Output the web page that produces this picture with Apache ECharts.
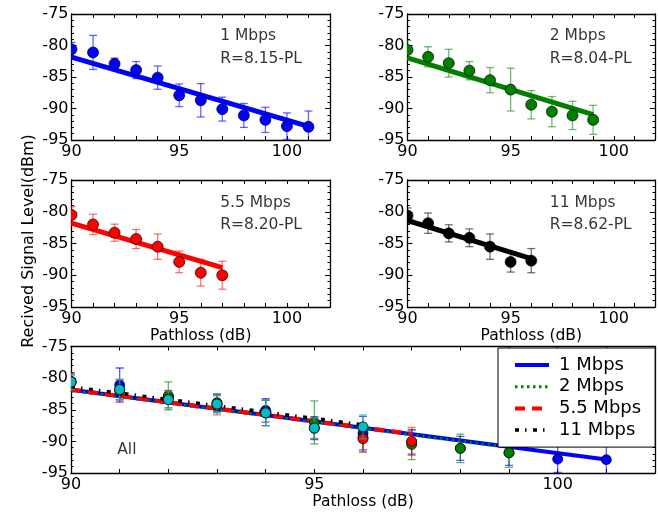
<!DOCTYPE html>
<html>
<head>
<meta charset="utf-8">
<script src="https://cdn.jsdelivr.net/npm/echarts@6/dist/echarts.min.js"></script>
<style>
  html, body { margin: 0; padding: 0; background: #fff; }
  #chart { width: 658px; height: 513px; }
</style>
</head>
<body>
<div id="chart"></div>
<script>
// Path loss (dB) at which each rate was measured
const pathloss = [90, 91, 92, 93, 94, 95, 96, 97, 98, 99, 100, 101];

// Mean received signal level (dBm) and its standard deviation, per data rate
const rate1Mean  = [-80.6, -81.1, -82.9, -83.9, -85.1, -87.9, -88.7, -90.1, -91.1, -91.8, -92.8, -92.9];
const rate1Err   = [1.1, 2.7, 0.9, 1.35, 1.85, 1.8, 2.65, 1.9, 1.9, 2.0, 2.1, 2.5];
const rate2Mean  = [-80.7, -81.8, -82.8, -84.0, -85.5, -87.0, -89.4, -90.5, -91.1, -91.8];
const rate2Err   = [1.5, 1.6, 2.2, 1.45, 2.0, 3.4, 2.25, 2.4, 2.25, 2.3];
const rate55Mean = [-80.5, -82.0, -83.3, -84.3, -85.5, -87.9, -89.6, -90.0];
const rate55Err  = [1.3, 1.6, 1.35, 1.5, 2.0, 1.7, 2.1, 2.2];
const rate11Mean = [-80.6, -81.8, -83.4, -84.1, -85.5, -87.9, -87.7];
const rate11Err  = [1.2, 1.6, 1.35, 1.4, 2.0, 1.6, 1.9];

// Rate names and fitted model constants: R = c - PL
const rateNames = ['1 Mbps', '2 Mbps', '5.5 Mbps', '11 Mbps'];
const fitConst  = [8.15, 8.04, 8.20, 8.62];

// Axis ticks
const xTickLabels = [90, 95, 100];
const yTickLabels = [-75, -80, -85, -90, -95];

const FONT = 'DejaVu Sans';
const means = [rate1Mean, rate2Mean, rate55Mean, rate11Mean];
const errs  = [rate1Err, rate2Err, rate55Err, rate11Err];
const colors    = ['#0000ff', '#008000', '#ff0000', '#000000'];
const barColors = ['rgba(0,0,255,0.6)', 'rgba(0,128,0,0.55)', 'rgba(255,0,0,0.55)', 'rgba(0,0,0,0.55)'];
const allColors    = ['#0000ff', '#008000', '#ff0000', '#00bfbf'];
const allBarColors = ['rgba(0,0,255,0.65)', 'rgba(0,128,0,0.6)', 'rgba(255,0,0,0.55)', 'rgba(0,191,191,0.65)'];
const dashes = ['solid', [2.5, 3.5], [10, 7], [4, 6, 1.5, 6.5]];
const allWidths = [4, 3, 4, 3.5];

// Panel layout: four single-rate panels and one combined panel
const grids = [
  { left: 71.5, top: 14, width: 258.5, height: 126 },
  { left: 407.5, top: 14, width: 258, height: 126 },
  { left: 71.5, top: 180, width: 258.5, height: 127 },
  { left: 407.5, top: 180, width: 258, height: 127 },
  { left: 71, top: 346.5, width: 595, height: 126.5 }
];

const frame = { show: true, lineStyle: { color: '#000', width: 1.3 } };
const tickStyle = { color: '#000', width: 1 };

const xAxes = [], yAxes = [];
grids.forEach((g, i) => {
  const withName = i >= 2;
  xAxes.push({
    gridIndex: i, type: 'value', min: 90, max: 102, interval: 1, position: 'bottom',
    axisLine: frame, splitLine: { show: false },
    axisTick: { show: true, inside: true, length: 4, lineStyle: tickStyle },
    axisLabel: {
      show: true, margin: 4, fontSize: 16, color: '#000', fontFamily: FONT,
      formatter: v => xTickLabels.includes(v) ? String(v) : ''
    },
    name: withName ? 'Pathloss (dB)' : '', nameLocation: 'middle', nameGap: 21,
    nameTextStyle: { fontSize: 15.5, color: '#000', fontFamily: FONT }
  });
  xAxes.push({
    gridIndex: i, type: 'value', min: 90, max: 102, interval: 1, position: 'top',
    axisLine: frame, splitLine: { show: false },
    axisTick: { show: true, inside: true, length: 4, lineStyle: tickStyle },
    axisLabel: { show: false }
  });
  const yBase = {
    gridIndex: i, type: 'value', min: -95, max: -75, interval: 5,
    axisLine: frame, splitLine: { show: false },
    axisTick: { show: true, inside: true, length: 5, lineStyle: tickStyle },
    minorTick: { show: true, splitNumber: 5, length: 2.5, lineStyle: tickStyle }
  };
  yAxes.push(Object.assign({}, yBase, {
    position: 'left',
    axisLabel: {
      show: true, margin: 3, fontSize: 16, color: '#000', fontFamily: FONT,
      formatter: v => yTickLabels.includes(v) ? String(v) : ''
    }
  }));
  yAxes.push(Object.assign({}, yBase, { position: 'right', axisLabel: { show: false } }));
});

// Error bars with caps plus circular markers, clipped to the panel
function pointSeries(gi, rate, color, barColor, size, name) {
  return {
    type: 'custom', name: name, xAxisIndex: 2 * gi, yAxisIndex: 2 * gi, clip: true, z: 3,
    data: means[rate].map((m, k) => [pathloss[k], m, errs[rate][k]]),
    encode: { x: 0, y: 1 },
    renderItem: (params, api) => {
      const x = api.value(0), m = api.value(1), e = api.value(2);
      const top = api.coord([x, m + e]);
      const bot = api.coord([x, m - e]);
      const c = api.coord([x, m]);
      const cap = 4;
      const bar = { stroke: barColor, lineWidth: 1.3 };
      return {
        type: 'group',
        children: [
          { type: 'line', shape: { x1: top[0], y1: top[1], x2: bot[0], y2: bot[1] }, style: bar },
          { type: 'line', shape: { x1: top[0] - cap, y1: top[1], x2: top[0] + cap, y2: top[1] }, style: bar },
          { type: 'line', shape: { x1: bot[0] - cap, y1: bot[1], x2: bot[0] + cap, y2: bot[1] }, style: bar },
          { type: 'circle', shape: { cx: c[0], cy: c[1], r: size / 2 },
            style: { fill: color, stroke: 'rgba(0,0,0,0.7)', lineWidth: 1 } }
        ]
      };
    }
  };
}

// Fitted line R = c - PL over the measured range
function fitSeries(gi, rate, style, name) {
  const n = means[rate].length;
  const x0 = pathloss[0], x1 = pathloss[n - 1];
  return {
    type: 'line', name: name, xAxisIndex: 2 * gi, yAxisIndex: 2 * gi, z: 2,
    symbol: 'none', silent: true, clip: true,
    itemStyle: { color: style.color },
    data: [[x0, fitConst[rate] - x0], [x1, fitConst[rate] - x1]],
    lineStyle: style
  };
}

// Text placed in data coordinates of a panel
function textSeries(gi, items, size) {
  return {
    type: 'scatter', xAxisIndex: 2 * gi, yAxisIndex: 2 * gi, z: 10, silent: true,
    symbolSize: 0, data: items,
    label: {
      show: true, position: 'right', distance: 0, formatter: p => p.value[2],
      fontSize: size, color: '#000', fontFamily: FONT
    }
  };
}

const series = [];
for (let r = 0; r < 4; r++) {
  series.push(fitSeries(r, r, { color: colors[r], width: 5, type: 'solid' }, 'fit ' + r));
  series.push(pointSeries(r, r, colors[r], barColors[r], 11, 'pts ' + r));
  series.push(textSeries(r, [
    [96.9, -78.55, rateNames[r]],
    [96.9, -82.1, 'R=' + fitConst[r].toFixed(2) + '-PL']
  ], 15.5));
}
for (let r = 0; r < 4; r++) {
  series.push(fitSeries(4, r, { color: colors[r], width: allWidths[r], type: dashes[r] }, rateNames[r]));
}
for (let r = 0; r < 4; r++) {
  series.push(pointSeries(4, r, allColors[r], allBarColors[r], 10, 'all pts ' + r));
}
series.push(textSeries(4, [[90.95, -91.4, 'All']], 15.5));

const chart = echarts.init(document.getElementById('chart'), null, { renderer: 'canvas' });
chart.setOption({
  animation: false,
  backgroundColor: '#fff',
  textStyle: { fontFamily: FONT },
  grid: grids,
  xAxis: xAxes,
  yAxis: yAxes,
  legend: {
    data: rateNames, orient: 'vertical', left: 498, top: 348, z: 20,
    itemWidth: 34, itemHeight: 14, itemGap: 3.7, selectedMode: false,
    padding: [8, 14, 8, 15],
    itemStyle: { opacity: 0 },
    lineStyle: { width: 'inherit' },
    backgroundColor: '#fff', borderColor: '#000', borderWidth: 1, borderRadius: 0,
    textStyle: { fontSize: 18, color: '#000', fontFamily: FONT, padding: [0, 0, 0, 5] }
  },
  graphic: [{
    type: 'text', x: 29, y: 241, rotation: Math.PI / 2,
    style: {
      text: 'Recived Signal Level(dBm)', font: '16px "DejaVu Sans"', fill: '#000',
      align: 'center', verticalAlign: 'middle'
    }
  }],
  series: series
});
</script>
</body>
</html>
